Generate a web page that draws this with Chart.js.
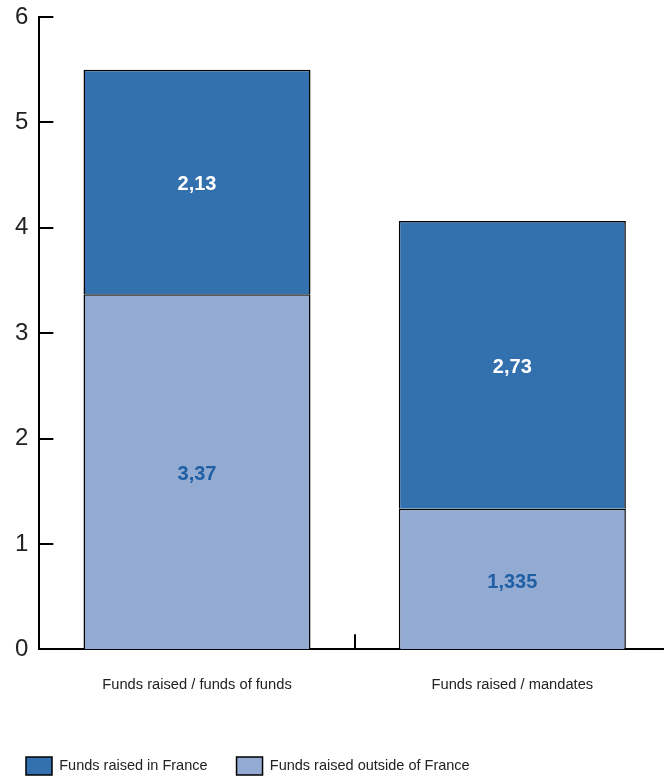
<!DOCTYPE html>
<html>
<head>
<meta charset="utf-8">
<script src="https://cdn.jsdelivr.net/npm/chart.js@4"></script>
<style>
  html, body { margin: 0; padding: 0; background: #fff; overflow: hidden; }
  #wrap { width: 670px; height: 777px; }
</style>
</head>
<body>
<div id="wrap"><canvas id="fundsChart"></canvas></div>
<script>
// Funds raised (stacked)
const categories = ["Funds raised / funds of funds", "Funds raised / mandates"];
const outsideFrance = [3.37, 1.335];
const inFrance = [2.13, 2.73];
const yTicks = [0, 1, 2, 3, 4, 5, 6];

const SANS = "'Liberation Sans', Arial, sans-serif";

// draws the values inside each bar segment, plus inward tick marks
const barLabels = {
  id: "barLabels",
  afterLayout(chart) {
    // legend starts a little further left than the plot
    chart.legend.left -= 7;
  },
  afterDatasetsDraw(chart) {
    const ctx = chart.ctx;
    ctx.save();
    ctx.font = "bold 20px " + SANS;
    ctx.textAlign = "center";
    ctx.textBaseline = "middle";
    chart.data.datasets.forEach((ds, i) => {
      chart.getDatasetMeta(i).data.forEach((bar, j) => {
        const { x, y, base } = bar.getProps(["x", "y", "base"], true);
        ctx.fillStyle = ds.labelColor;
        ctx.fillText(String(ds.data[j]).replace(".", ","), x, (y + base) / 2 + 3);
      });
    });
    ctx.restore();
  },
  afterDraw(chart) {
    const ctx = chart.ctx, y = chart.scales.y, x = chart.scales.x;
    const area = chart.chartArea;
    ctx.save();
    ctx.strokeStyle = "#000";
    ctx.lineWidth = 2;
    ctx.beginPath();
    yTicks.forEach((t) => {
      const py = Math.round(y.getPixelForValue(t));
      ctx.moveTo(area.left, py);
      ctx.lineTo(area.left + 14, py);
    });
    // tick between the two categories
    const mid = (x.getPixelForValue(0) + x.getPixelForValue(1)) / 2;
    ctx.moveTo(Math.round(mid), area.bottom);
    ctx.lineTo(Math.round(mid), area.bottom - 15);
    ctx.stroke();
    ctx.restore();
  },
};

const ctx = document.getElementById("fundsChart");

new Chart(ctx, {
  type: "bar",
  data: {
    labels: categories,
    datasets: [
      {
        label: "Funds raised outside of France",
        data: outsideFrance,
        backgroundColor: "#93abd2",
        borderColor: "#000",
        borderWidth: 1.5,
        labelColor: "#1f5fa6",
        stack: "s",
      },
      {
        label: "Funds raised in France",
        data: inFrance,
        backgroundColor: "#3270ae",
        borderColor: "#000",
        borderWidth: 1.5,
        labelColor: "#ffffff",
        stack: "s",
      },
    ],
  },
  options: {
    responsive: true,
    maintainAspectRatio: false,
    animation: false,
    layout: { padding: { top: 17, left: 4, right: 0, bottom: -8 } },
    datasets: {
      bar: { barPercentage: 0.72, categoryPercentage: 1 },
    },
    scales: {
      x: {
        stacked: true,
        grid: { display: false, drawTicks: false },
        border: { display: true, color: "#000", width: 2 },
        afterFit: (axis) => {
          axis.height += 7;
        },
        ticks: {
          color: "#222",
          font: { family: SANS, size: 14.7 },
          padding: 27,
        },
      },
      y: {
        stacked: true,
        min: 0,
        max: 6,
        grid: { display: false, drawTicks: false },
        border: { display: true, color: "#000", width: 2 },
        afterBuildTicks: (axis) => {
          axis.ticks = yTicks.map((v) => ({ value: v }));
        },
        afterFit: (axis) => {
          axis.paddingTop = 0;
          axis.paddingBottom = 0;
        },
        ticks: {
          color: "#222",
          font: { family: SANS, size: 24 },
          padding: 11,
        },
      },
    },
    plugins: {
      legend: {
        position: "bottom",
        align: "start",
        reverse: true,
        labels: {
          boxWidth: 26,
          boxHeight: 18,
          padding: 29,
          color: "#222",
          font: { family: SANS, size: 14.5 },
        },
      },
      tooltip: { enabled: false },
    },
  },
  plugins: [barLabels],
});
</script>
</body>
</html>
